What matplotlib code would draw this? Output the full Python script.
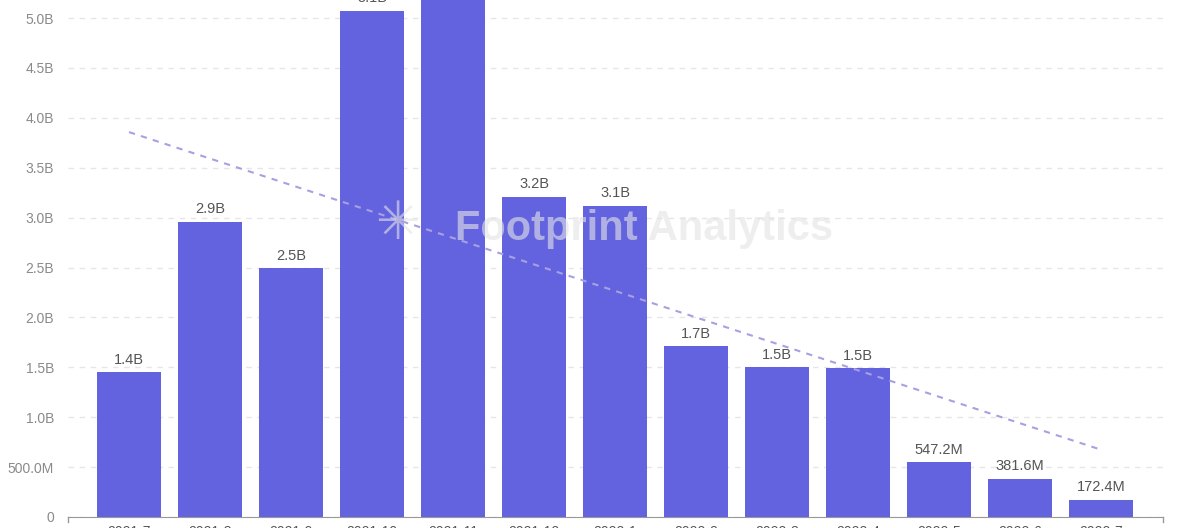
import numpy as np
import matplotlib
matplotlib.use('Agg')
import matplotlib.pyplot as plt

plt.rcParams['font.family'] = ['Liberation Sans', 'DejaVu Sans']

# Data (values in billions)
months = ['2021-7', '2021-8', '2021-9', '2021-10', '2021-11', '2021-12', '2022-1',
          '2022-2', '2022-3', '2022-4', '2022-5', '2022-6', '2022-7']
volume = [1.45, 2.96, 2.49, 5.07, 5.35, 3.21, 3.12, 1.71, 1.50, 1.49, 0.5472, 0.3816, 0.1724]
bar_labels = ['1.4B', '2.9B', '2.5B', '5.1B', '5.4B', '3.2B', '3.1B', '1.7B', '1.5B',
              '1.5B', '547.2M', '381.6M', '172.4M']
yticks = [0, 0.5, 1.0, 1.5, 2.0, 2.5, 3.0, 3.5, 4.0, 4.5, 5.0]
ytick_labels = ['0', '500.0M', '1.0B', '1.5B', '2.0B', '2.5B', '3.0B', '3.5B', '4.0B', '4.5B', '5.0B']

W, H = 1187, 528
fig = plt.figure(figsize=(W / 100, H / 100), dpi=100)
ax = fig.add_axes([68 / W, 11 / H, (1163 - 68) / W, 517 / H])

x = np.arange(len(months))
ax.bar(x, volume, width=0.79, color='#6363e0', zorder=3)

for xi, v, lab in zip(x, volume, bar_labels):
    ax.annotate(lab, (xi, v), xytext=(0, 4), textcoords='offset points',
                ha='center', va='bottom', fontsize=10.5, color='#555555', zorder=4)

# linear trend line
k, b = np.polyfit(x, volume, 1)
ax.plot([x[0], x[-1]], [k * x[0] + b, k * x[-1] + b], ls=(0, (3, 3)),
        color='#a9a0e2', lw=1.5, zorder=5)

ax.set_xlim(-0.753, 12.765)
ax.set_ylim(0, 517 / 99.8)

ax.set_yticks(yticks)
ax.set_yticklabels(ytick_labels, fontsize=10, color='#8a8a8a')
ax.tick_params(axis='y', length=0, pad=10)
ax.yaxis.grid(True, ls=(0, (4, 4)), color='#e6e6e6', lw=1)
ax.set_axisbelow(True)

ax.set_xticks(x)
ax.set_xticklabels(months, fontsize=10, color='#555555')
ax.tick_params(axis='x', length=0, pad=6)

for s in ['top', 'right', 'left']:
    ax.spines[s].set_visible(False)
ax.spines['bottom'].set_color('#999999')

# end ticks on the category axis
for xe in ax.get_xlim():
    ax.plot([xe, xe], [0, -0.05], color='#999999', lw=1, clip_on=False)

# watermark
fig.text(0.543, 0.567, 'Footprint Analytics', fontsize=30, fontweight='bold',
         color='#e4e4e4', alpha=0.6, ha='center', va='center', zorder=10)
fig.text(0.335, 0.575, '\u2733', fontsize=38, color='#e4e4e4', alpha=0.6,
         ha='center', va='center', family=['DejaVu Sans'], zorder=10)

fig.savefig('out.png', dpi=100)
